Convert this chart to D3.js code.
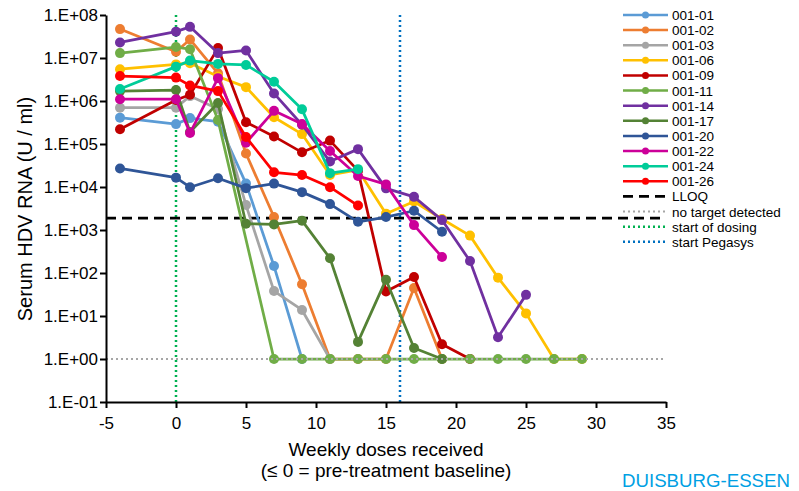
<!DOCTYPE html>
<html>
<head>
<meta charset="utf-8">
<script src="https://cdn.jsdelivr.net/npm/d3@7/dist/d3.min.js"></script>
<style>
  body { margin: 0; background: #fff; }
  svg { display: block; font-family: "Liberation Sans", Arial, sans-serif; }
</style>
</head>
<body>
<script>
//width and height of svg
var w = 799;
var h = 491;

//weeks (doses received) where samples were taken
var weeks = [-4, 0, 1, 3, 5, 7, 9, 11, 13, 15, 17, 19, 21, 23, 25, 27, 29];

//patient names
var patients = ["001-01", "001-02", "001-03", "001-06", "001-09", "001-11",
                "001-14", "001-17", "001-20", "001-22", "001-24", "001-26"];

//serum HDV RNA per patient (U/ml), null = no sample
var s01 = [4.1e5, 2.9e5, 4.0e5, 3.3e5, 1.2e4, 145, 1, null, null, null, null, null, null, null, null, null, null];
var s02 = [4.7e7, 1.4e7, 2.7e7, 4.4e6, 6.0e4, 2.0e3, 55, 1, 1, 1, 45, 1, null, null, null, null, null];
var s03 = [7.0e5, 7.0e5, 1.3e6, 6.5e5, 3.8e3, 38, 13.8, 1, null, null, null, null, null, null, null, null, null];
var s06 = [5.5e6, 7.1e6, 7.6e6, 3.7e6, 2.1e6, 4.2e5, 1.7e5, 1.9e4, 2.5e4, 2.4e3, 4.6e3, 1.8e3, 740, 78, 11.5, 1, 1];
var s09 = [2.2e5, 1.05e6, 1.4e6, 1.7e7, 3.2e5, 1.5e5, 6.4e4, 1.2e5, 2.4e4, 37, 81, 2.2, 1, null, null, null, null];
var s11 = [1.3e7, 1.8e7, 1.6e7, 3.6e5, null, 1, 1, 1, 1, 1, 1, 1, 1, 1, 1, 1, 1];
var s14 = [2.3e7, 4.1e7, 5.3e7, 1.3e7, 1.5e7, 1.5e6, 2.8e5, 3.9e4, 7.6e4, 9.3e3, 5.9e3, 1.7e3, 190, 3.2, 31, null, null];
var s17 = [1.7e6, 1.8e6, 1.9e5, 9.0e5, 1.4e3, 1.35e3, 1.65e3, 220, 2.5, 70, 1.8, 1, null, null, null, null, null];
var s20 = [2.7e4, 1.65e4, 9.9e3, 1.6e4, 9.4e3, 1.2e4, 7.6e3, 4.0e3, 1.55e3, 2.0e3, 2.8e3, 910, null, null, null, null, null];
var s22 = [1.1e6, 1.1e6, 1.8e5, 3.4e6, 1.07e5, 5.9e5, 2.9e5, 6.9e4, 1.8e4, 1.15e4, 1.3e3, 235, null, null, null, null, null];
var s24 = [1.9e6, 6.3e6, 8.7e6, 7.3e6, 6.9e6, 2.8e6, 6.4e5, 2.1e4, 2.6e4, null, null, null, null, null, null, null, null];
var s26 = [3.8e6, 3.5e6, 2.3e6, 1.7e6, 1.45e5, 2.2e4, 1.9e4, 9.9e3, 3.7e3, null, null, null, null, null, null, null, null];

//colours of the patients, same order as the names
var colors = ["#5B9BD5", "#ED7D31", "#A5A5A5", "#FFC000", "#C00000", "#70AD47",
              "#7030A0", "#548235", "#2F5597", "#CC0099", "#00CC99", "#FF0000"];

//reference levels
var lloq = 1.9e3;        //lower limit of quantification
var notDetected = 1;     //plotted value for "no target detected"
var startDosing = 0;
var startPegasys = 16;

//axis ticks
var xTicks = [-5, 0, 5, 10, 15, 20, 25, 30, 35];
var yTicks = [1e-1, 1e0, 1e1, 1e2, 1e3, 1e4, 1e5, 1e6, 1e7, 1e8];

var series = [s01, s02, s03, s06, s09, s11, s14, s17, s20, s22, s24, s26];

//set up the svg canvas
var svg = d3.select("body")
            .append("svg")
            .attr("width", w)
            .attr("height", h);

//scales
var xScale = d3.scaleLinear()
               .domain([-5, 35])
               .range([106, 666]);

var yScale = d3.scaleLog()
               .domain([0.1, 1e8])
               .range([402, 15]);

//reference lines first, patients go on top
var refs = svg.append("g");

refs.append("line") //start of dosing
    .attr("x1", xScale(startDosing)).attr("x2", xScale(startDosing))
    .attr("y1", yScale(1e8)).attr("y2", yScale(0.1))
    .attr("stroke", "#00B050")
    .attr("stroke-width", 2.5)
    .attr("stroke-dasharray", "2,3");

refs.append("line") //start Pegasys
    .attr("x1", xScale(startPegasys)).attr("x2", xScale(startPegasys))
    .attr("y1", yScale(1e8)).attr("y2", yScale(0.1))
    .attr("stroke", "#0070C0")
    .attr("stroke-width", 2.5)
    .attr("stroke-dasharray", "2,3");

refs.append("line") //LLOQ
    .attr("x1", xScale(-5)).attr("x2", xScale(35))
    .attr("y1", yScale(lloq)).attr("y2", yScale(lloq))
    .attr("stroke", "#000")
    .attr("stroke-width", 2.75)
    .attr("stroke-dasharray", "10,6");

//the patients
var line = d3.line()
             .x(function(d) { return xScale(d[0]); })
             .y(function(d) { return yScale(d[1]); });

var groups = svg.selectAll("g.patient")
                .data(series)
                .enter()
                .append("g")
                .attr("class", "patient")
                .style("fill", function(d, i) { return colors[i]; })
                .style("stroke", function(d, i) { return colors[i]; });

//pair each value with its week, drop the missing ones
function points(d) {
    return weeks.map(function(wk, i) { return [wk, d[i]]; })
                .filter(function(p) { return p[1] != null; });
}

groups.append("path")
      .attr("d", function(d) { return line(points(d)); })
      .style("fill", "none")
      .attr("stroke-width", 2.75)
      .attr("stroke-linejoin", "round");

groups.selectAll("circle")
      .data(function(d) { return points(d); })
      .enter()
      .append("circle")
      .attr("cx", function(d) { return xScale(d[0]); })
      .attr("cy", function(d) { return yScale(d[1]); })
      .attr("r", 5)
      .style("stroke", "none");

//no target detected line sits over the markers
svg.append("line")
   .attr("x1", xScale(-5)).attr("x2", xScale(35))
   .attr("y1", yScale(notDetected)).attr("y2", yScale(notDetected))
   .attr("stroke", "#A6A6A6")
   .attr("stroke-width", 2)
   .attr("stroke-dasharray", "2,3");

//axes
var xAxis = d3.axisBottom(xScale)
              .tickValues(xTicks)
              .tickSize(6)
              .tickSizeOuter(0)
              .tickPadding(9)
              .tickFormat(function(d) { return String(d); }); //plain hyphen for -5

var yAxis = d3.axisLeft(yScale)
              .tickValues(yTicks)
              .tickSize(6)
              .tickSizeOuter(0)
              .tickPadding(2)
              .tickFormat(function(d) {
                  var e = Math.round(Math.log10(d));
                  return "1.E" + (e < 0 ? "-" : "+") + String(Math.abs(e)).padStart(2, "0");
              });

var gx = svg.append("g")
            .attr("transform", "translate(0," + yScale(0.1) + ")")
            .call(xAxis);

var gy = svg.append("g")
            .attr("transform", "translate(" + xScale(-5) + ",0)")
            .call(yAxis);

[gx, gy].forEach(function(g) {
    g.selectAll("path, line").attr("stroke", "#000").attr("stroke-width", 2);
    g.selectAll("text")
     .attr("fill", "#000")
     .style("font-size", "17px")
     .style("font-family", "'Liberation Sans', Arial, sans-serif");
});

//axis titles
svg.append("text")
   .attr("transform", "translate(32,209) rotate(-90)")
   .attr("text-anchor", "middle")
   .style("font-size", "20px")
   .text("Serum HDV RNA (U / ml)");

svg.append("text")
   .attr("x", 386)
   .attr("y", 456)
   .attr("text-anchor", "middle")
   .style("font-size", "19px")
   .text("Weekly doses received");

svg.append("text")
   .attr("x", 386)
   .attr("y", 477)
   .attr("text-anchor", "middle")
   .style("font-size", "19px")
   .text("(≤ 0 = pre-treatment baseline)");

//legend
var legend = svg.append("g");
var rowY = function(i) { return 15 + i * 15.12; };

patients.forEach(function(name, i) {
    legend.append("line")
          .attr("x1", 623).attr("x2", 668)
          .attr("y1", rowY(i)).attr("y2", rowY(i))
          .attr("stroke", colors[i])
          .attr("stroke-width", 2.5);
    legend.append("circle")
          .attr("cx", 645.5).attr("cy", rowY(i))
          .attr("r", 3.5)
          .attr("fill", colors[i]);
    legend.append("text")
          .attr("x", 672).attr("y", rowY(i) + 5)
          .style("font-size", "13.5px")
          .text(name);
});

var extras = [
    { name: "LLOQ", color: "#000", width: 2.75, dash: "10,6" },
    { name: "no target detected", color: "#A6A6A6", width: 2, dash: "2,3" },
    { name: "start of dosing", color: "#00B050", width: 2.5, dash: "2,3" },
    { name: "start Pegasys", color: "#0070C0", width: 2.5, dash: "2,3" }
];

extras.forEach(function(d, j) {
    var i = patients.length + j;
    legend.append("line")
          .attr("x1", 623).attr("x2", 668)
          .attr("y1", rowY(i)).attr("y2", rowY(i))
          .attr("stroke", d.color)
          .attr("stroke-width", d.width)
          .attr("stroke-dasharray", d.dash);
    legend.append("text")
          .attr("x", 672).attr("y", rowY(i) + 5)
          .style("font-size", "13.5px")
          .text(d.name);
});

//university mark
svg.append("text")
   .attr("x", 622)
   .attr("y", 487)
   .attr("textLength", 168)
   .attr("lengthAdjust", "spacingAndGlyphs")
   .attr("fill", "#00A0E3")
   .style("font-size", "17.5px")
   .text("DUISBURG-ESSEN");
</script>
</body>
</html>
